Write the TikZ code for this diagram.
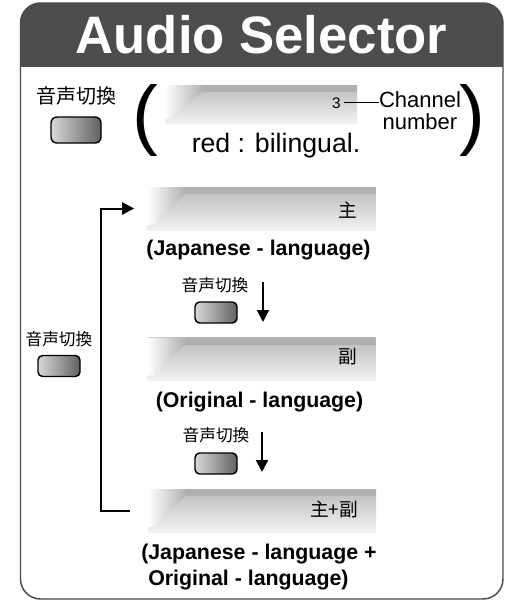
\documentclass[tikz,border=0pt]{standalone}
\usepackage{fontspec}
\setmainfont{Liberation Sans}
\newfontfamily\jpfont{Noto Sans CJK JP}
\usetikzlibrary{arrows.meta,positioning,calc}
\definecolor{headgray}{HTML}{4D4D4D}
\definecolor{framegray}{HTML}{4A4A4A}
\definecolor{stripgray}{HTML}{B0B0B0}

\begin{document}
\begin{tikzpicture}[x=0.75pt,y=-0.75pt,
    every node/.style={inner sep=0pt},
    jp/.style={font={\jpfont\fontsize{#1}{#1}\selectfont}},
    button/.style={draw=black,line width=1.1pt,rounded corners=3.5pt,left color=black!15,right color=black!62,minimum width=31.5pt,minimum height=15.75pt},
    bigbutton/.style={button,minimum width=37.5pt,minimum height=19.5pt,rounded corners=4.5pt},
    dispbar/.style={top color=black!27,bottom color=black!5,minimum width=171pt,minimum height=32.25pt,
      path picture={
        \fill[stripgray] ($(path picture bounding box.north west)+(37,0)$) rectangle ($(path picture bounding box.north east)+(0,7)$);
        \shade[left color=white,right color=black!30] (path picture bounding box.north west) -- ++(37,0) -- ++(0,7)
          -- ($(path picture bounding box.south west)+(6,-5)$) -- ($(path picture bounding box.south west)+(0,-5)$) -- cycle;
      }},
    caption/.style={font=\fontsize{16}{19.5}\selectfont\bfseries},
    flow/.style={line width=1.5pt,-{Triangle[width=9pt,length=9pt]}}
]
\useasboundingbox (0,0) rectangle (506,601);

% frame and header
\begin{scope}
  \clip[rounded corners=15pt] (20.5,3) rectangle (503,599);
  \fill[headgray] (20.5,3) rectangle (503,67);
\end{scope}
\draw[framegray,line width=1.1pt,rounded corners=15pt] (20.5,3) rectangle (503,599);
\node[font=\fontsize{39.5}{40}\selectfont\bfseries,text=white] (title) at (261.5,34.5) {Audio Selector};

% channel display
\node[jp=15] (selA) at (76.5,96) {音声切換};
\node[bigbutton] (btnA) at (76,130) {};
\node[font=\fontsize{58}{58}\selectfont] (lpar) at (145,120.5) {(};
\node[font=\fontsize{58}{58}\selectfont] (rpar) at (472.5,120.5) {)};
\node[dispbar,minimum width=144pt,minimum height=28.5pt] (chbar) at (261,104) {};
\node[font=\fontsize{11.5}{12}\selectfont,anchor=base east] (three) at (341,108) {3};
\node[font=\fontsize{16.5}{16.5}\selectfont,align=center] (chan) at (420,111) {Channel\\number};
\draw[line width=0.7pt] ([xshift=2.5pt]three.east) -- (three.east -| chan.west);
\node[font=\fontsize{20}{24}\selectfont,anchor=base] (redtxt) at (276,152) {red : bilingual.};

% modes
\node[dispbar] (bar1) at (261.5,208.5) {};
\node[jp=14,anchor=east] (main) at ($(bar1.east)+(-18,1.5)$) {主};
\node[caption,anchor=base] (cap1) at (258.5,255.5) {(Japanese - language)};

\node[jp=12.5] (selB) at (215,285) {音声切換};
\node[button] (btnB) at (216,312.5) {};
\coordinate (d1s) at (263,282);
\coordinate (d1e) at (263,322);
\draw[flow] (d1s) -- (d1e);

\node[dispbar] (bar2) at (261.5,359) {};
\node[jp=14,anchor=east] (sub) at ($(bar2.east)+(-18,-2.5)$) {副};
\node[caption,anchor=base] (cap2) at (259.5,407) {(Original - language)};

\node[jp=12.5] (selC) at (216,435.5) {音声切換};
\node[button] (btnC) at (216,463.5) {};
\coordinate (d2s) at (262,432);
\coordinate (d2e) at (262,472);
\draw[flow] (d2s) -- (d2e);

\node[dispbar] (bar3) at (262,510.5) {};
\node[jp=14,anchor=east] (both) at ($(bar3.east)+(-18,-1)$) {主+副};
\node[caption,anchor=base west] (cap3a) at (141,559.5) {(Japanese - language +};
\node[caption,anchor=base west] (cap3b) at (148,585) {Original - language)};

% return loop
\node[jp=12.5] (selL) at (59,339) {音声切換};
\node[button] (btnL) at (59,366) {};
\coordinate (loopin) at ($(bar3.west)+(-18,0)$);
\coordinate (loopout) at ($(bar1.west)+(-13,0)$);
\draw[flow] (loopin) -- ++(-29,0) |- (loopout);
\end{tikzpicture}
\end{document}
